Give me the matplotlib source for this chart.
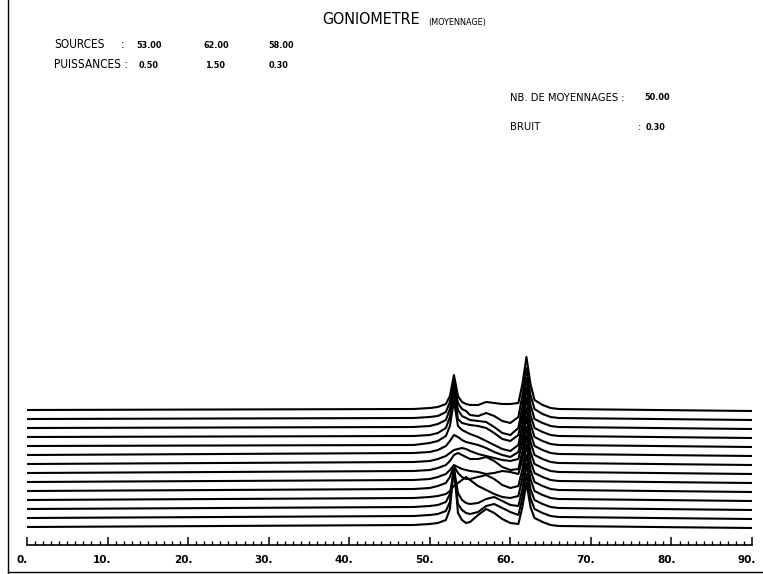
import numpy as np
import matplotlib
matplotlib.use('Agg')
import matplotlib.pyplot as plt
from matplotlib.lines import Line2D
from matplotlib.ticker import MultipleLocator
from matplotlib.transforms import ScaledTranslation

# Angle grid (degrees) shared by every averaged spectrum
angles = [0, 48, 50, 51, 52, 52.5, 53, 53.5, 54, 54.5, 55, 56, 57, 58, 59,
          60, 61, 61.5, 62, 62.5, 63, 64, 65, 66, 90]

# Heights above each curve's own baseline, bottom curve first
curve_00 = [0, 2, 3, 4, 7, 18, 60, 14, 7, 4, 5, 12, 18, 14, 8, 4, 3, 20, 44, 20, 9, 5, 2, 1, -1]
curve_01 = [0, 2, 3, 4, 7, 16, 50, 14, 8, 5, 4, 6, 12, 14, 10, 6, 3, 20, 44, 20, 9, 5, 2, 1, -1]
curve_02 = [0, 2, 3, 4, 7, 15, 40, 16, 9, 6, 5, 6, 10, 12, 8, 4, 3, 20, 45, 20, 9, 5, 2, 1, -1]
curve_03 = [0, 2, 3, 4, 6, 9, 14, 17, 20, 23, 20, 14, 10, 6, 3, 2, 4, 22, 45, 21, 9, 5, 2, 1, -1]
curve_04 = [0, 2, 3, 5, 8, 14, 25, 18, 14, 12, 12, 14, 16, 12, 6, 3, 5, 22, 46, 21, 9, 5, 2, 1, -1]
curve_05 = [0, 2, 3, 5, 8, 12, 17, 15, 13, 12, 11, 10, 8, 9, 11, 10, 8, 23, 46, 21, 9, 5, 2, 1, -1]
curve_06 = [0, 2, 3, 5, 8, 12, 18, 20, 18, 16, 14, 14, 16, 12, 6, 3, 4, 22, 46, 21, 9, 5, 2, 1, -1]
curve_07 = [0, 2, 3, 5, 8, 11, 14, 15, 16, 15, 13, 10, 8, 6, 4, 3, 5, 22, 47, 22, 9, 5, 2, 1, -1]
curve_08 = [0, 2, 3, 5, 9, 14, 20, 18, 15, 13, 12, 10, 7, 3, 0, -2, 3, 22, 47, 22, 9, 5, 2, 1, -1]
curve_09 = [0, 1, 3, 5, 10, 20, 45, 20, 16, 14, 12, 9, 5, 1, -3, -5, 1, 22, 48, 22, 9, 5, 2, 1, -1]
curve_10 = [0, 1, 2, 4, 9, 20, 45, 18, 14, 13, 12, 11, 9, 4, -2, -4, 2, 22, 49, 22, 9, 5, 2, 1, -1]
curve_11 = [0, 1, 2, 4, 8, 19, 43, 18, 12, 10, 8, 7, 6, 1, -5, -7, 0, 22, 50, 23, 9, 5, 2, 1, -1]
curve_12 = [0, 1, 2, 3, 7, 17, 39, 16, 10, 8, 4, 3, 6, 3, -2, -4, 2, 24, 51, 24, 10, 5, 2, 1, -1]
curve_13 = [0, 1, 2, 3, 6, 14, 35, 14, 8, 6, 5, 5, 8, 7, 6, 6, 7, 26, 53, 26, 10, 5, 2, 1, -1]

curves = [curve_00, curve_01, curve_02, curve_03, curve_04, curve_05, curve_06,
          curve_07, curve_08, curve_09, curve_10, curve_11, curve_12, curve_13]

x_ticks = [0, 10, 20, 30, 40, 50, 60, 70, 80, 90]
x_tick_labels = ['0.', '10.', '20.', '30.', '40.', '50.', '60.', '70.', '80.', '90.']

sources = ['53.00', '62.00', '58.00']
puissances = ['0.50', '1.50', '0.30']
nb_moyennages = '50.00'
bruit = '0.30'

W, H = 763, 574
fig = plt.figure(figsize=(W / 100, H / 100), dpi=100)
fig.patch.set_facecolor('white')

# axes placed in pixel terms: x 0..90 -> px 27..752, y data = pixels above the tick line
ax_left, ax_right, ax_base, ax_top = 27, 752, 545, 30
ax = fig.add_axes([ax_left / W, (H - ax_base) / H,
                   (ax_right - ax_left) / W, (ax_base - ax_top) / H])
ax.set_xlim(0, 90)
ax.set_ylim(0, ax_base - ax_top)

offset_step = 9
for i, heights in enumerate(curves):
    base = 18 + offset_step * i
    ax.plot(angles, np.array(heights) + base, color='black', linewidth=1.5,
            solid_joinstyle='round')

for side in ['top', 'left', 'right']:
    ax.spines[side].set_visible(False)
ax.spines['bottom'].set_linewidth(1.2)
ax.set_yticks([])
ax.set_xticks(x_ticks)
ax.set_xticklabels(x_tick_labels, fontsize=7.5, fontweight='bold')
ax.xaxis.set_minor_locator(MultipleLocator(1))
ax.tick_params(axis='x', which='major', direction='in', length=6, width=1.1, pad=7)
ax.tick_params(axis='x', which='minor', direction='in', length=3, width=1)
for lab in ax.get_xticklabels():
    lab.set_transform(lab.get_transform() + ScaledTranslation(-5 / 100, 0, fig.dpi_scale_trans))

# outer frame (left and bottom only)
fig.add_artist(Line2D([8 / W, 8 / W], [0, 1], color='black', linewidth=1))
fig.add_artist(Line2D([8 / W, 1], [1 - 572 / H, 1 - 572 / H], color='black', linewidth=1))


def px_text(x, y, s, size, bold=False):
    fig.text(x / W, 1 - y / H, s, fontsize=size, va='center', ha='left',
             fontweight='bold' if bold else 'normal', fontstretch='condensed',
             family='DejaVu Sans')


px_text(322, 20, 'GONIOMETRE', 11.5)
px_text(428, 22, '(MOYENNAGE)', 6.5)

px_text(54, 45, 'SOURCES', 8.5)
px_text(121, 45, ':', 8.5)
for x, s in zip([136, 203, 268], sources):
    px_text(x, 45, s, 6.5, bold=True)

px_text(54, 65, 'PUISSANCES :', 8.5)
for x, s in zip([139, 205, 269], puissances):
    px_text(x, 65, s, 6.5, bold=True)

px_text(510, 98, 'NB. DE MOYENNAGES :', 8)
px_text(644, 98, nb_moyennages, 6.5, bold=True)
px_text(510, 127, 'BRUIT', 8)
px_text(638, 127, ':', 8)
px_text(646, 127, bruit, 6.5, bold=True)

fig.savefig('out.png', dpi=100, facecolor='white')
plt.close(fig)
